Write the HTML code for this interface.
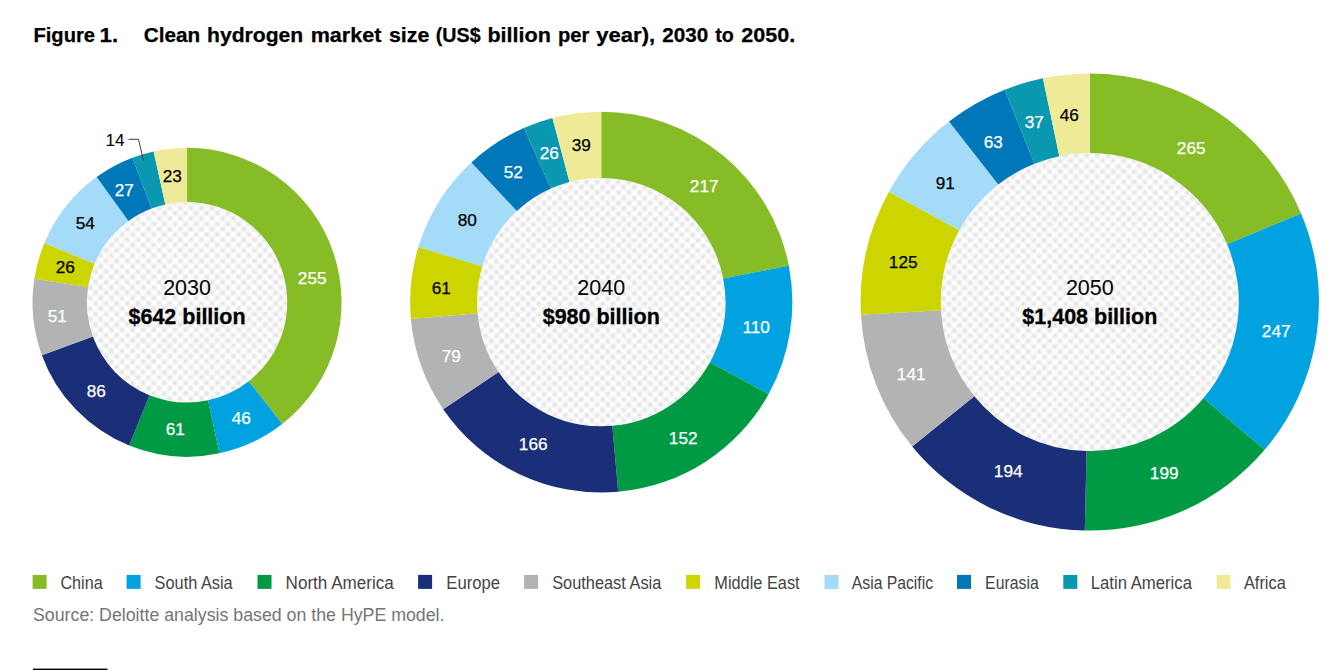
<!DOCTYPE html>
<html lang="en"><head><meta charset="utf-8">
<title>Figure 1. Clean hydrogen market size</title>
<style>
html,body{margin:0;padding:0;background:#fff;}
body{width:1330px;height:670px;overflow:hidden;}
svg{display:block;}
text{font-family:"Liberation Sans",sans-serif;}
</style></head><body>
<svg width="1330" height="670" viewBox="0 0 1330 670">
<defs>
<pattern id="chk1" width="10.6" height="10.6" patternUnits="userSpaceOnUse" x="2.7" y="-1.4"><rect width="10.6" height="10.6" fill="#ffffff"/><rect x="0.35" y="0.35" width="4.6" height="4.6" rx="1.2" fill="#e1e1e1"/><rect x="5.65" y="5.65" width="4.6" height="4.6" rx="1.2" fill="#e1e1e1"/></pattern>
<pattern id="chk2" width="10.6" height="10.6" patternUnits="userSpaceOnUse" x="0.9" y="-0.8"><rect width="10.6" height="10.6" fill="#ffffff"/><rect x="0.35" y="0.35" width="4.6" height="4.6" rx="1.2" fill="#e1e1e1"/><rect x="5.65" y="5.65" width="4.6" height="4.6" rx="1.2" fill="#e1e1e1"/></pattern>
<pattern id="chk3" width="10.6" height="10.6" patternUnits="userSpaceOnUse" x="8.1" y="-0.8"><rect width="10.6" height="10.6" fill="#ffffff"/><rect x="0.35" y="0.35" width="4.6" height="4.6" rx="1.2" fill="#e1e1e1"/><rect x="5.65" y="5.65" width="4.6" height="4.6" rx="1.2" fill="#e1e1e1"/></pattern>
<filter id="soft" x="-5%" y="-5%" width="110%" height="110%"><feGaussianBlur stdDeviation="0.8"/></filter>
</defs>
<rect width="1330" height="670" fill="#ffffff"/>
<text x="33.4" y="42.2" font-size="20.6" font-weight="bold" fill="#000" stroke="#000" stroke-width="0.25" textLength="61.7" lengthAdjust="spacingAndGlyphs">Figure</text>
<text x="99.6" y="42.2" font-size="20.6" font-weight="bold" fill="#000" stroke="#000" stroke-width="0.25" textLength="18.6" lengthAdjust="spacingAndGlyphs">1.</text>
<text x="143.8" y="42.2" font-size="20.6" font-weight="bold" fill="#000" stroke="#000" stroke-width="0.25" textLength="56.5" lengthAdjust="spacingAndGlyphs">Clean</text>
<text x="207.0" y="42.2" font-size="20.6" font-weight="bold" fill="#000" stroke="#000" stroke-width="0.25" textLength="96.2" lengthAdjust="spacingAndGlyphs">hydrogen</text>
<text x="310.7" y="42.2" font-size="20.6" font-weight="bold" fill="#000" stroke="#000" stroke-width="0.25" textLength="70.7" lengthAdjust="spacingAndGlyphs">market</text>
<text x="388.9" y="42.2" font-size="20.6" font-weight="bold" fill="#000" stroke="#000" stroke-width="0.25" textLength="40.5" lengthAdjust="spacingAndGlyphs">size</text>
<text x="435.8" y="42.2" font-size="20.6" font-weight="bold" fill="#000" stroke="#000" stroke-width="0.25" textLength="44.8" lengthAdjust="spacingAndGlyphs">(US$</text>
<text x="487.4" y="42.2" font-size="20.6" font-weight="bold" fill="#000" stroke="#000" stroke-width="0.25" textLength="63.5" lengthAdjust="spacingAndGlyphs">billion</text>
<text x="558.0" y="42.2" font-size="20.6" font-weight="bold" fill="#000" stroke="#000" stroke-width="0.25" textLength="31.4" lengthAdjust="spacingAndGlyphs">per</text>
<text x="596.2" y="42.2" font-size="20.6" font-weight="bold" fill="#000" stroke="#000" stroke-width="0.25" textLength="59.0" lengthAdjust="spacingAndGlyphs">year),</text>
<text x="662.2" y="42.2" font-size="20.6" font-weight="bold" fill="#000" stroke="#000" stroke-width="0.25" textLength="46.0" lengthAdjust="spacingAndGlyphs">2030</text>
<text x="715.2" y="42.2" font-size="20.6" font-weight="bold" fill="#000" stroke="#000" stroke-width="0.25" textLength="18.6" lengthAdjust="spacingAndGlyphs">to</text>
<text x="741.3" y="42.2" font-size="20.6" font-weight="bold" fill="#000" stroke="#000" stroke-width="0.25" textLength="54.0" lengthAdjust="spacingAndGlyphs">2050.</text>
<g>
<circle cx="187.05" cy="302.3" r="101.2" fill="url(#chk1)" filter="url(#soft)"/>
<path d="M187.05,147.80 A154.5,154.5 0 0 1 282.17,424.05 L248.74,381.26 A100.2,100.2 0 0 0 187.05,202.10 Z" fill="#86bc25"/>
<path d="M282.17,424.05 A154.5,154.5 0 0 1 219.44,453.37 L208.05,400.27 A100.2,100.2 0 0 0 248.74,381.26 Z" fill="#00a3e0"/>
<path d="M219.44,453.37 A154.5,154.5 0 0 1 129.17,445.55 L149.51,395.20 A100.2,100.2 0 0 0 208.05,400.27 Z" fill="#009a44"/>
<path d="M129.17,445.55 A154.5,154.5 0 0 1 41.87,355.14 L92.89,336.57 A100.2,100.2 0 0 0 149.51,395.20 Z" fill="#1b2f78"/>
<path d="M41.87,355.14 A154.5,154.5 0 0 1 34.37,278.66 L88.03,286.97 A100.2,100.2 0 0 0 92.89,336.57 Z" fill="#b1b3b4"/>
<path d="M34.37,278.66 A154.5,154.5 0 0 1 44.41,242.93 L94.54,263.79 A100.2,100.2 0 0 0 88.03,286.97 Z" fill="#cdd500"/>
<path d="M44.41,242.93 A154.5,154.5 0 0 1 96.67,176.99 L128.44,221.03 A100.2,100.2 0 0 0 94.54,263.79 Z" fill="#a3dbf8"/>
<path d="M96.67,176.99 A154.5,154.5 0 0 1 132.44,157.77 L151.63,208.57 A100.2,100.2 0 0 0 128.44,221.03 Z" fill="#0077b8"/>
<path d="M132.44,157.77 A154.5,154.5 0 0 1 153.61,151.46 L165.36,204.48 A100.2,100.2 0 0 0 151.63,208.57 Z" fill="#0a97b0"/>
<path d="M153.61,151.46 A154.5,154.5 0 0 1 187.05,147.80 L187.05,202.10 A100.2,100.2 0 0 0 165.36,204.48 Z" fill="#efea98"/>
<text x="312.2" y="283.7" font-size="17.2" text-anchor="middle" fill="#ffffff" stroke="#ffffff" stroke-width="0.25">255</text>
<text x="241.2" y="423.7" font-size="17.2" text-anchor="middle" fill="#ffffff" stroke="#ffffff" stroke-width="0.25">46</text>
<text x="175.2" y="434.7" font-size="17.2" text-anchor="middle" fill="#ffffff" stroke="#ffffff" stroke-width="0.25">61</text>
<text x="96.2" y="396.7" font-size="17.2" text-anchor="middle" fill="#ffffff" stroke="#ffffff" stroke-width="0.25">86</text>
<text x="57.2" y="321.7" font-size="17.2" text-anchor="middle" fill="#ffffff" stroke="#ffffff" stroke-width="0.25">51</text>
<text x="65.2" y="272.7" font-size="17.2" text-anchor="middle" fill="#000000" stroke="#000000" stroke-width="0.25">26</text>
<text x="85.2" y="228.7" font-size="17.2" text-anchor="middle" fill="#000000" stroke="#000000" stroke-width="0.25">54</text>
<text x="124.2" y="195.7" font-size="17.2" text-anchor="middle" fill="#ffffff" stroke="#ffffff" stroke-width="0.25">27</text>
<text x="172.2" y="181.7" font-size="17.2" text-anchor="middle" fill="#000000" stroke="#000000" stroke-width="0.25">23</text>
<text x="187.05" y="295.0" font-size="21.5" text-anchor="middle" fill="#000">2030</text>
<text x="187.05" y="324.0" font-size="21.5" font-weight="bold" text-anchor="middle" fill="#000" stroke="#000" stroke-width="0.3">$642 billion</text>
</g>
<g>
<circle cx="601.25" cy="302.15" r="125.2" fill="url(#chk2)" filter="url(#soft)"/>
<path d="M601.25,111.75 A191.1,190.4 0 0 1 788.84,265.82 L723.17,278.45 A124.2,124.2 0 0 0 601.25,177.95 Z" fill="#86bc25"/>
<path d="M788.84,265.82 A191.1,190.4 0 0 1 768.55,394.17 L709.98,362.17 A124.2,124.2 0 0 0 723.17,278.45 Z" fill="#00a3e0"/>
<path d="M768.55,394.17 A191.1,190.4 0 0 1 618.24,491.80 L612.29,425.86 A124.2,124.2 0 0 0 709.98,362.17 Z" fill="#009a44"/>
<path d="M618.24,491.80 A191.1,190.4 0 0 1 443.19,409.17 L498.53,371.96 A124.2,124.2 0 0 0 612.29,425.86 Z" fill="#1b2f78"/>
<path d="M443.19,409.17 A191.1,190.4 0 0 1 410.91,319.08 L477.54,313.19 A124.2,124.2 0 0 0 498.53,371.96 Z" fill="#b1b3b4"/>
<path d="M410.91,319.08 A191.1,190.4 0 0 1 418.31,247.12 L482.35,266.25 A124.2,124.2 0 0 0 477.54,313.19 Z" fill="#cdd500"/>
<path d="M418.31,247.12 A191.1,190.4 0 0 1 471.41,162.45 L516.86,211.02 A124.2,124.2 0 0 0 482.35,266.25 Z" fill="#a3dbf8"/>
<path d="M471.41,162.45 A191.1,190.4 0 0 1 523.83,128.08 L550.93,188.60 A124.2,124.2 0 0 0 516.86,211.02 Z" fill="#0077b8"/>
<path d="M523.83,128.08 A191.1,190.4 0 0 1 552.43,118.07 L569.52,182.07 A124.2,124.2 0 0 0 550.93,188.60 Z" fill="#0a97b0"/>
<path d="M552.43,118.07 A191.1,190.4 0 0 1 601.25,111.75 L601.25,177.95 A124.2,124.2 0 0 0 569.52,182.07 Z" fill="#efea98"/>
<text x="704.2" y="191.7" font-size="17.2" text-anchor="middle" fill="#ffffff" stroke="#ffffff" stroke-width="0.25">217</text>
<text x="756.2" y="332.7" font-size="17.2" text-anchor="middle" fill="#ffffff" stroke="#ffffff" stroke-width="0.25">110</text>
<text x="683.2" y="443.7" font-size="17.2" text-anchor="middle" fill="#ffffff" stroke="#ffffff" stroke-width="0.25">152</text>
<text x="533.2" y="449.7" font-size="17.2" text-anchor="middle" fill="#ffffff" stroke="#ffffff" stroke-width="0.25">166</text>
<text x="451.2" y="361.7" font-size="17.2" text-anchor="middle" fill="#ffffff" stroke="#ffffff" stroke-width="0.25">79</text>
<text x="441.2" y="293.7" font-size="17.2" text-anchor="middle" fill="#000000" stroke="#000000" stroke-width="0.25">61</text>
<text x="467.2" y="225.7" font-size="17.2" text-anchor="middle" fill="#000000" stroke="#000000" stroke-width="0.25">80</text>
<text x="513.2" y="177.7" font-size="17.2" text-anchor="middle" fill="#ffffff" stroke="#ffffff" stroke-width="0.25">52</text>
<text x="549.2" y="158.7" font-size="17.2" text-anchor="middle" fill="#ffffff" stroke="#ffffff" stroke-width="0.25">26</text>
<text x="581.2" y="150.7" font-size="17.2" text-anchor="middle" fill="#000000" stroke="#000000" stroke-width="0.25">39</text>
<text x="601.25" y="294.84999999999997" font-size="21.5" text-anchor="middle" fill="#000">2040</text>
<text x="601.25" y="323.84999999999997" font-size="21.5" font-weight="bold" text-anchor="middle" fill="#000" stroke="#000" stroke-width="0.3">$980 billion</text>
</g>
<g>
<circle cx="1089.8" cy="302.0" r="150.0" fill="url(#chk3)" filter="url(#soft)"/>
<path d="M1089.80,73.40 A229.2,228.6 0 0 1 1301.09,213.41 L1227.16,244.26 A149.0,149.0 0 0 0 1089.80,153.00 Z" fill="#86bc25"/>
<path d="M1301.09,213.41 A229.2,228.6 0 0 1 1264.60,449.86 L1203.44,398.37 A149.0,149.0 0 0 0 1227.16,244.26 Z" fill="#00a3e0"/>
<path d="M1264.60,449.86 A229.2,228.6 0 0 1 1084.80,530.55 L1086.55,450.96 A149.0,149.0 0 0 0 1203.44,398.37 Z" fill="#009a44"/>
<path d="M1084.80,530.55 A229.2,228.6 0 0 1 912.18,446.48 L974.33,396.17 A149.0,149.0 0 0 0 1086.55,450.96 Z" fill="#1b2f78"/>
<path d="M912.18,446.48 A229.2,228.6 0 0 1 860.96,314.76 L941.03,310.32 A149.0,149.0 0 0 0 974.33,396.17 Z" fill="#b1b3b4"/>
<path d="M860.96,314.76 A229.2,228.6 0 0 1 888.95,191.87 L959.23,230.22 A149.0,149.0 0 0 0 941.03,310.32 Z" fill="#cdd500"/>
<path d="M888.95,191.87 A229.2,228.6 0 0 1 949.01,121.62 L998.27,184.43 A149.0,149.0 0 0 0 959.23,230.22 Z" fill="#a3dbf8"/>
<path d="M949.01,121.62 A229.2,228.6 0 0 1 1004.68,89.75 L1034.47,163.66 A149.0,149.0 0 0 0 998.27,184.43 Z" fill="#0077b8"/>
<path d="M1004.68,89.75 A229.2,228.6 0 0 1 1042.93,78.23 L1059.33,156.15 A149.0,149.0 0 0 0 1034.47,163.66 Z" fill="#0a97b0"/>
<path d="M1042.93,78.23 A229.2,228.6 0 0 1 1089.80,73.40 L1089.80,153.00 A149.0,149.0 0 0 0 1059.33,156.15 Z" fill="#efea98"/>
<text x="1191.2" y="153.7" font-size="17.2" text-anchor="middle" fill="#ffffff" stroke="#ffffff" stroke-width="0.25">265</text>
<text x="1276.2" y="336.7" font-size="17.2" text-anchor="middle" fill="#ffffff" stroke="#ffffff" stroke-width="0.25">247</text>
<text x="1164.2" y="478.7" font-size="17.2" text-anchor="middle" fill="#ffffff" stroke="#ffffff" stroke-width="0.25">199</text>
<text x="1008.2" y="476.7" font-size="17.2" text-anchor="middle" fill="#ffffff" stroke="#ffffff" stroke-width="0.25">194</text>
<text x="911.2" y="379.7" font-size="17.2" text-anchor="middle" fill="#ffffff" stroke="#ffffff" stroke-width="0.25">141</text>
<text x="903.2" y="267.7" font-size="17.2" text-anchor="middle" fill="#000000" stroke="#000000" stroke-width="0.25">125</text>
<text x="945.2" y="188.7" font-size="17.2" text-anchor="middle" fill="#000000" stroke="#000000" stroke-width="0.25">91</text>
<text x="993.2" y="147.7" font-size="17.2" text-anchor="middle" fill="#ffffff" stroke="#ffffff" stroke-width="0.25">63</text>
<text x="1034.2" y="127.7" font-size="17.2" text-anchor="middle" fill="#ffffff" stroke="#ffffff" stroke-width="0.25">37</text>
<text x="1069.2" y="120.7" font-size="17.2" text-anchor="middle" fill="#000000" stroke="#000000" stroke-width="0.25">46</text>
<text x="1089.8" y="294.7" font-size="21.5" text-anchor="middle" fill="#000">2050</text>
<text x="1089.8" y="323.7" font-size="21.5" font-weight="bold" text-anchor="middle" fill="#000" stroke="#000" stroke-width="0.3">$1,408 billion</text>
</g>
<text x="115" y="146.3" font-size="17.2" text-anchor="middle" fill="#000">14</text>
<polyline points="128.5,139.3 138.5,139.3 143.5,160.5" fill="none" stroke="#404040" stroke-width="1"/>
<rect x="32.6" y="574.9" width="14" height="14" fill="#86bc25"/>
<text x="60.4" y="588.8" font-size="17.5" fill="#444444" textLength="42.3" lengthAdjust="spacingAndGlyphs">China</text>
<rect x="126.6" y="574.9" width="14" height="14" fill="#00a3e0"/>
<text x="154.6" y="588.8" font-size="17.5" fill="#444444" textLength="78.1" lengthAdjust="spacingAndGlyphs">South Asia</text>
<rect x="257.5" y="574.9" width="14" height="14" fill="#009a44"/>
<text x="285.6" y="588.8" font-size="17.5" fill="#444444" textLength="108.2" lengthAdjust="spacingAndGlyphs">North America</text>
<rect x="418.1" y="574.9" width="14" height="14" fill="#1b2f78"/>
<text x="446.3" y="588.8" font-size="17.5" fill="#444444" textLength="53.6" lengthAdjust="spacingAndGlyphs">Europe</text>
<rect x="524.1" y="574.9" width="14" height="14" fill="#b1b3b4"/>
<text x="552.2" y="588.8" font-size="17.5" fill="#444444" textLength="109.1" lengthAdjust="spacingAndGlyphs">Southeast Asia</text>
<rect x="686.1" y="574.9" width="14" height="14" fill="#cdd500"/>
<text x="714.3" y="588.8" font-size="17.5" fill="#444444" textLength="85.3" lengthAdjust="spacingAndGlyphs">Middle East</text>
<rect x="824.5" y="574.9" width="14" height="14" fill="#a3dbf8"/>
<text x="851.8" y="588.8" font-size="17.5" fill="#444444" textLength="81.3" lengthAdjust="spacingAndGlyphs">Asia Pacific</text>
<rect x="957.0" y="574.9" width="14" height="14" fill="#0077b8"/>
<text x="985.1" y="588.8" font-size="17.5" fill="#444444" textLength="53.6" lengthAdjust="spacingAndGlyphs">Eurasia</text>
<rect x="1063.3" y="574.9" width="14" height="14" fill="#0a97b0"/>
<text x="1090.7" y="588.8" font-size="17.5" fill="#444444" textLength="101.3" lengthAdjust="spacingAndGlyphs">Latin America</text>
<rect x="1216.6" y="574.9" width="14" height="14" fill="#efea98"/>
<text x="1243.9" y="588.8" font-size="17.5" fill="#444444" textLength="41.9" lengthAdjust="spacingAndGlyphs">Africa</text>
<text x="33" y="620.6" font-size="17.5" fill="#757575" textLength="411.5" lengthAdjust="spacingAndGlyphs">Source: Deloitte analysis based on the HyPE model.</text>
<rect x="33" y="668.6" width="74.5" height="1.4" fill="#000"/>
</svg></body></html>
